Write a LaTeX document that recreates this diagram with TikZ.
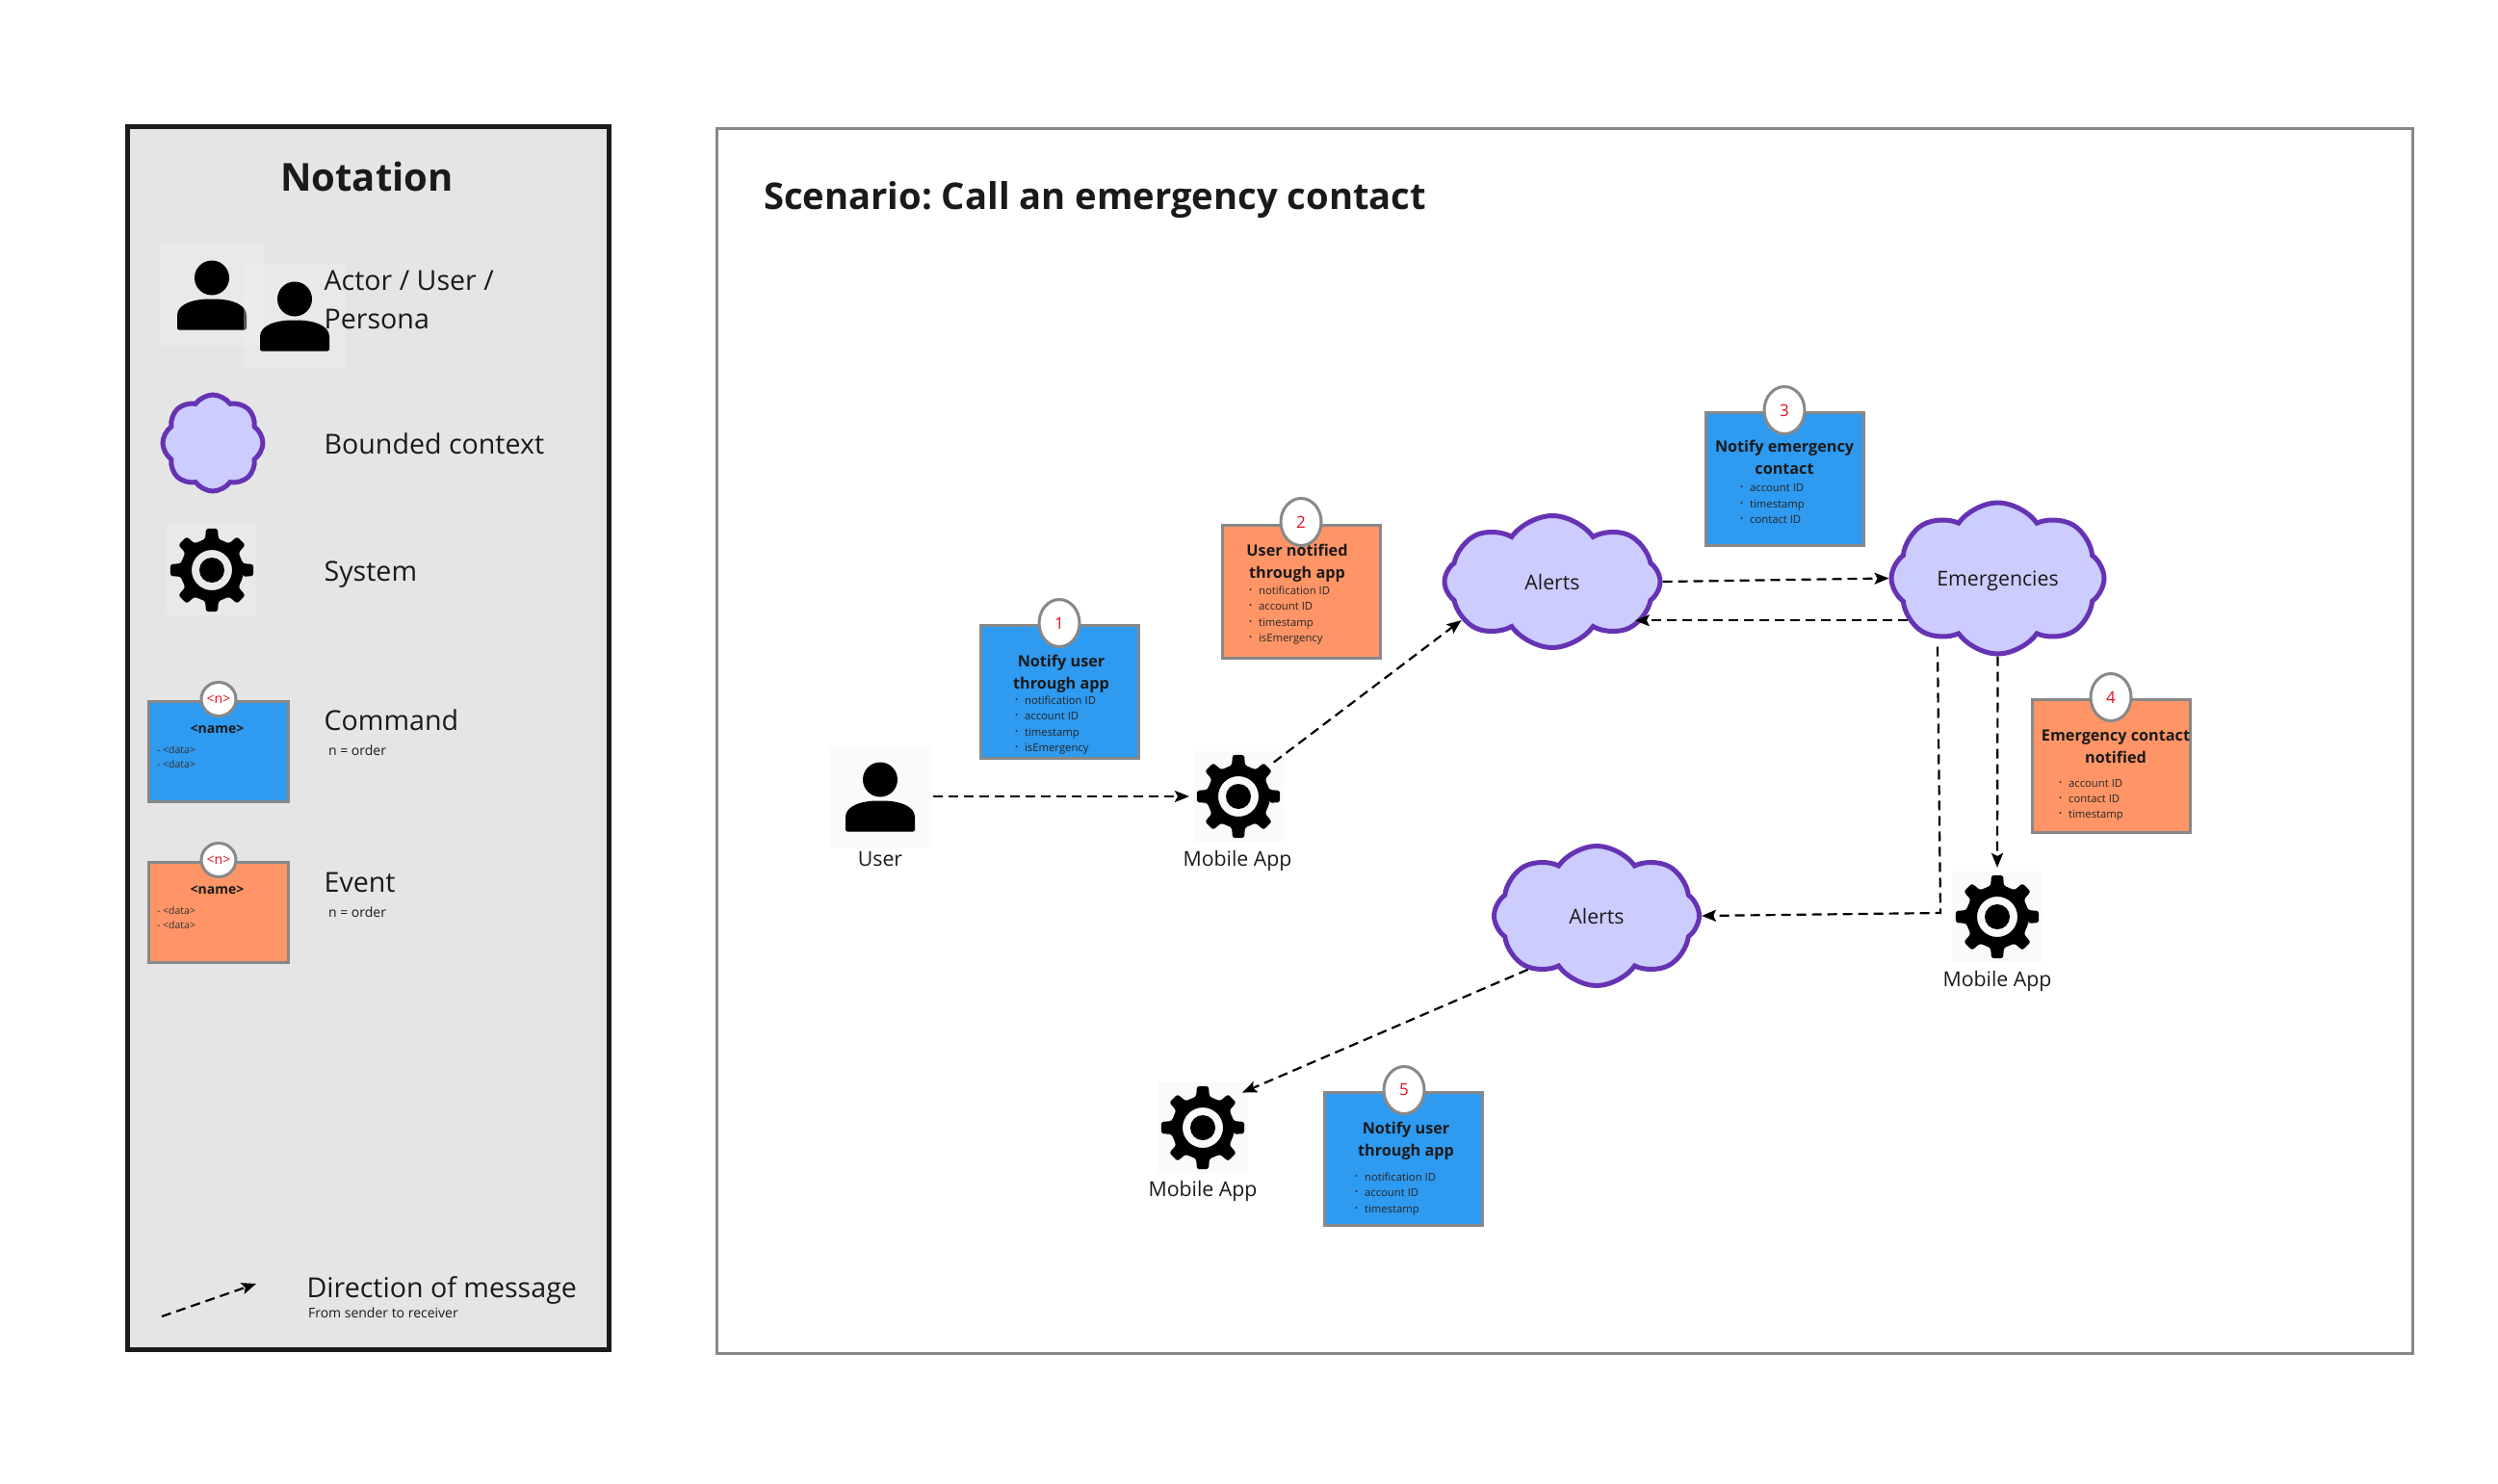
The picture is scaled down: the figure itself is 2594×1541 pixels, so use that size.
\documentclass[tikz,border=0pt]{standalone}
\usepackage{fontspec}
\setmainfont{Open Sans}
\usetikzlibrary{arrows.meta,shapes.geometric,shapes.symbols}

\definecolor{commandblue}{RGB}{46,154,240}
\definecolor{eventorange}{RGB}{255,149,102}
\definecolor{contextfill}{RGB}{204,204,255}
\definecolor{contextline}{RGB}{102,51,179}
\definecolor{framegray}{RGB}{136,136,136}
\definecolor{inkdark}{RGB}{26,26,26}
\definecolor{badgered}{RGB}{224,16,26}

\newcommand{\notebullet}{\llap{\raisebox{1.5pt}{\fontsize{8}{8}\selectfont •}\hspace{7pt}}}
\frenchspacing

\tikzset{
  every picture/.style={line width=2.2pt},
  every node/.style={text=inkdark},
  iconback/.style={fill={rgb,255:red,242;green,242;blue,242},fill opacity=0.35},
  sticky/.style={rectangle,draw=framegray,line width=3pt,minimum width=164pt,minimum height=138pt,inner sep=0pt},
  badge/.style={ellipse,draw=framegray,line width=3pt,fill=white,text=badgered,minimum width=42pt,minimum height=49pt,inner sep=0pt,font=\fontsize{17}{20}\selectfont},
  smallbadge/.style={badge,minimum width=36pt,minimum height=35pt,font=\fontsize{14}{16}\selectfont},
  context/.style={cloud,cloud puffs=8,cloud puff arc=110,cloud ignores aspect,draw=contextline,line width=5pt,fill=contextfill,inner sep=0pt,text height=16pt,text depth=0pt,font=\fontsize{21.3}{26}\selectfont},
  message/.style={draw=black,line width=2.2pt,dash pattern=on 10pt off 6pt,-{Stealth[length=15pt,width=12pt,inset=3pt]}},
  legendtext/.style={anchor=base west,inner sep=0pt,font=\fontsize{28.6}{40}\selectfont},
  legendsmall/.style={anchor=base west,inner sep=0pt,font=\fontsize{14}{18}\selectfont},
  boxtitle/.style={align=center,inner sep=0pt,font=\bfseries\fontsize{16.2}{23}\selectfont},
  noteitem/.style={anchor=base west,inner sep=0pt,text=black!85,font=\fontsize{11.3}{16}\selectfont},
  iconlabel/.style={inner sep=0pt,font=\fontsize{21.3}{26}\selectfont},
  personicon/.pic={
    \fill [iconback] (-53,-53) rectangle (53,53);
    \node [rectangle,minimum size=108pt,inner sep=0pt] (-hub) at (0,0) {};
    \fill [black] (0,17.5) circle (18);
    \fill [black,rounded corners=2pt] (-36,-36.5) -- (-36,-23.5) .. controls (-36,-10) and (-20,-4.5) .. (0,-4.5) .. controls (20,-4.5) and (36,-10) .. (36,-23.5) -- (36,-36.5) -- cycle;
  },
  gearicon/.pic={
    \fill [iconback] (-47,-47) rectangle (47,47);
    \node [circle,minimum size=100pt,inner sep=0pt] (-hub) at (0,0) {};
    \fill [black,even odd rule,rounded corners=2.5pt] (-12:33)
      foreach \a in {0,45,...,315} { -- (\a-12:33) -- (\a-8:43.5) -- (\a+8:43.5) -- (\a+12:33) } -- cycle
      (0,0) circle (21);
    \fill [black] (0,0) circle (13);
  },
}

\begin{document}
\begin{tikzpicture}[x=1pt,y=1pt,yscale=-1,xscale=1]
\useasboundingbox (0,0) rectangle (2594,1541);

%Legend frame
\draw [draw=inkdark,line width=5pt,fill={rgb,255:red,229;green,229;blue,229}] (132,132) rectangle (632,1401);
%Scenario frame
\draw [draw=framegray,line width=3pt] (744,134) rectangle (2505,1405);

% Text Node
\draw (381,199) node [anchor=base,inner sep=0pt,font=\bfseries\fontsize{40}{46}\selectfont] (legendTitle) {Notation};
% Text Node
\draw (792,218) node [anchor=base west,inner sep=0pt,font=\bfseries\fontsize{38.2}{46}\selectfont] (scenarioTitle) {Scenario: Call an emergency contact};

%Legend icons
\pic (legendUserA) at (220,306) {personicon};
\pic (legendUserB) at (306,328) {personicon};
\node [context,minimum width=104pt,minimum height=100pt] (legendContext) at (221,460) {};
\pic (legendSystem) at (220,592) {gearicon};

% Text Node
\draw (335.5,301) node [legendtext] (legendActorA) {Actor / User /};
% Text Node
\draw (335.5,341) node [legendtext] (legendActorB) {Persona};
% Text Node
\draw (335.5,471) node [legendtext] (legendContextText) {Bounded context};
% Text Node
\draw (335.5,603) node [legendtext] (legendSystemText) {System};

%Legend command
\node [sticky,fill=commandblue,minimum width=145pt,minimum height=104pt] (legendCommand) at (227,780.5) {};
\node [smallbadge] (legendCommandBadge) at (227,726) {<n>};
\draw (225.5,757) node [inner sep=0pt,font=\bfseries\fontsize{14}{16}\selectfont] (legendCommandName) {<name>};
\draw (162,782) node [anchor=base west,inner sep=0pt,text=black!80,font=\fontsize{10.5}{13}\selectfont] (legendCommandDataA) {- <data>};
\draw (162,797) node [anchor=base west,inner sep=0pt,text=black!80,font=\fontsize{10.5}{13}\selectfont] (legendCommandDataB) {- <data>};
% Text Node
\draw (335.5,758) node [legendtext] (legendCommandText) {Command};
% Text Node
\draw (340,784) node [legendsmall] (legendCommandOrder) {n = order};

%Legend event
\node [sticky,fill=eventorange,minimum width=145pt,minimum height=104pt] (legendEvent) at (227,947.5) {};
\node [smallbadge] (legendEventBadge) at (227,893) {<n>};
\draw (225.5,924) node [inner sep=0pt,font=\bfseries\fontsize{14}{16}\selectfont] (legendEventName) {<name>};
\draw (162,949) node [anchor=base west,inner sep=0pt,text=black!80,font=\fontsize{10.5}{13}\selectfont] (legendEventDataA) {- <data>};
\draw (162,964) node [anchor=base west,inner sep=0pt,text=black!80,font=\fontsize{10.5}{13}\selectfont] (legendEventDataB) {- <data>};
% Text Node
\draw (335.5,926) node [legendtext] (legendEventText) {Event};
% Text Node
\draw (340,952) node [legendsmall] (legendEventOrder) {n = order};

%Legend message
\coordinate (legendFrom) at (168,1367);
\coordinate (legendTo) at (266,1333);
\draw [message] (legendFrom) -- (legendTo);
% Text Node
\draw (317.5,1347) node [legendtext] (legendMessageText) {Direction of message};
% Text Node
\draw (319,1368) node [legendsmall] (legendMessageSub) {From sender to receiver};

%Contexts
\node [context,minimum width=224pt,minimum height=137pt] (alertsTop) at (1612,604) {Alerts};
\node [context,minimum width=221pt,minimum height=157pt] (emergencies) at (2074.5,600.5) {Emergencies};
\node [context,minimum width=213pt,minimum height=145pt] (alertsBottom) at (1658,951) {Alerts};

%Systems and user
\pic (user) at (914,827) {personicon};
\pic (appLeft) at (1286,827) {gearicon};
\pic (appRight) at (2074,952) {gearicon};
\pic (appBottom) at (1249,1171) {gearicon};

% Text Node
\draw (914,892) node [iconlabel] (userLabel) {User};
% Text Node
\draw (1285,894) node [iconlabel] (appLeftLabel) {Mobile App};
% Text Node
\draw (2074,1019) node [iconlabel] (appRightLabel) {Mobile App};
% Text Node
\draw (1249,1237) node [iconlabel] (appBottomLabel) {Mobile App};

%Messages
\draw [message] (user-hub.east) -- (appLeft-hub.west);
\draw [message] (appLeft-hub.44) -- (alertsTop.203);
\draw [message] (alertsTop.east) -- (emergencies.west);
\draw [message] (emergencies.205) -- (alertsTop.331 |- emergencies.205);
\draw [message] (emergencies.south) -- (appRight-hub.north);
\coordinate (bendRight) at (2015,948);
\draw [message] ([shift={(-3,-10)}]bendRight |- emergencies.south) -- (bendRight) -- (alertsBottom.east);
\draw [message,shorten >=4pt] (alertsBottom.218) -- (appBottom-hub.43);

%Sticky 1
\node [sticky,fill=commandblue] (noteOne) at (1100,718.5) {};
\node [badge] (noteOneBadge) at (1100,647) {1};
\draw (1102,700) node [boxtitle] (noteOneTitle) {Notify user\\through app};
\draw (1063,731) node [noteitem] (noteOneA) {\notebullet notification ID};
\draw (1063,747) node [noteitem] (noteOneB) {\notebullet account ID};
\draw (1063,764) node [noteitem] (noteOneC) {\notebullet timestamp};
\draw (1063,780) node [noteitem] (noteOneD) {\notebullet isEmergency};

%Sticky 2
\node [sticky,fill=eventorange] (noteTwo) at (1351.5,614) {};
\node [badge] (noteTwoBadge) at (1351,542) {2};
\draw (1347,585) node [boxtitle] (noteTwoTitle) {User notified\\through app};
\draw (1306,617) node [noteitem] (noteTwoA) {\notebullet notification ID};
\draw (1306,633) node [noteitem] (noteTwoB) {\notebullet account ID};
\draw (1306,650) node [noteitem] (noteTwoC) {\notebullet timestamp};
\draw (1306,666) node [noteitem] (noteTwoD) {\notebullet isEmergency};

%Sticky 3
\node [sticky,fill=commandblue] (noteThree) at (1853,497.5) {};
\node [badge] (noteThreeBadge) at (1853,426) {3};
\draw (1853,475) node [boxtitle] (noteThreeTitle) {Notify emergency\\contact};
\draw (1816,510) node [noteitem] (noteThreeA) {\notebullet account ID};
\draw (1816,527) node [noteitem] (noteThreeB) {\notebullet timestamp};
\draw (1816,543) node [noteitem] (noteThreeC) {\notebullet contact ID};

%Sticky 4
\node [sticky,fill=eventorange] (noteFour) at (2192.5,795.5) {};
\node [badge] (noteFourBadge) at (2192,724) {4};
\draw (2197,775.5) node [boxtitle] (noteFourTitle) {Emergency contact\\notified};
\draw (2147,817) node [noteitem] (noteFourA) {\notebullet account ID};
\draw (2147,833) node [noteitem] (noteFourB) {\notebullet contact ID};
\draw (2147,849) node [noteitem] (noteFourC) {\notebullet timestamp};

%Sticky 5
\node [sticky,fill=commandblue] (noteFive) at (1457.5,1203.5) {};
\node [badge] (noteFiveBadge) at (1458,1132) {5};
\draw (1460,1184.5) node [boxtitle] (noteFiveTitle) {Notify user\\through app};
\draw (1416,1226) node [noteitem] (noteFiveA) {\notebullet notification ID};
\draw (1416,1242) node [noteitem] (noteFiveB) {\notebullet account ID};
\draw (1416,1259) node [noteitem] (noteFiveC) {\notebullet timestamp};

\end{tikzpicture}
\end{document}
